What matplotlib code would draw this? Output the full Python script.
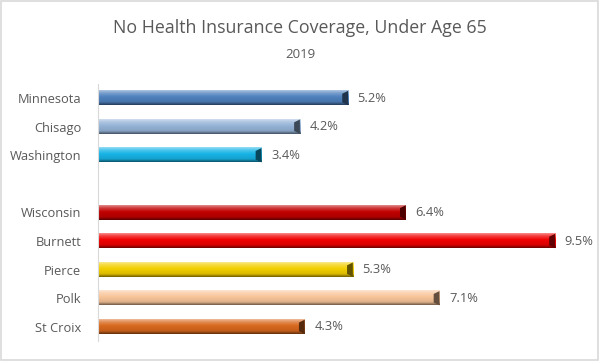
import numpy as np
import matplotlib
matplotlib.use("Agg")
import matplotlib.pyplot as plt
from matplotlib.colors import LinearSegmentedColormap, to_rgb
from matplotlib.patches import Rectangle, Polygon

plt.rcParams['font.family'] = ['Open Sans', 'DejaVu Sans']

# Data (gap row between Minnesota group and Wisconsin group)
places = ["Minnesota", "Chisago", "Washington", "", "Wisconsin", "Burnett", "Pierce", "Polk", "St Croix"]
values = [5.2, 4.2, 3.4, None, 6.4, 9.5, 5.3, 7.1, 4.3]
colors = ["#4F81BD", "#95B3D7", "#17B4E6", None, "#C00000", "#F00000", "#F2CF00", "#F9C59A", "#D8681E"]

title = "No Health Insurance Coverage, Under Age 65"
subtitle = "2019"
text_col = "#595959"


def shade(c, f):
    r, g, b = to_rgb(c)
    if f >= 0:
        return (r + (1 - r) * f, g + (1 - g) * f, b + (1 - b) * f)
    return (r * (1 + f), g * (1 + f), b * (1 + f))


fig = plt.figure(figsize=(6.0, 3.61), dpi=100)
fig.patch.set_facecolor("white")
fig.add_artist(Rectangle((0.002, 0.003), 0.995, 0.993, transform=fig.transFigure,
                         fill=False, edgecolor="#D9D9D9", linewidth=1.2))

ax = fig.add_axes([0.163, 0.055, 0.802, 0.713])
n = len(places)
ypos = np.arange(n)
ax.set_xlim(0, 10)
ax.set_ylim(n - 0.5, -0.5)

h = 0.5
for y, v, c in zip(ypos, values, colors):
    if v is None:
        continue
    cmap = LinearSegmentedColormap.from_list(
        "b", [(0, shade(c, 0.55)), (0.18, shade(c, 0.25)), (0.45, c),
              (0.8, shade(c, -0.1)), (1, shade(c, -0.55))])
    grad = np.linspace(0, 1, 64).reshape(-1, 1)
    ax.imshow(grad, cmap=cmap, aspect="auto", extent=[0, v, y + h / 2, y - h / 2],
              interpolation="bilinear", zorder=2)
    # slanted dark bevel at the right end
    ax.add_patch(Polygon([(v - 0.12, y - h / 2 + 0.1), (v, y - h / 2), (v, y + h / 2),
                          (v - 0.12, y + h / 2 - 0.1)],
                         facecolor=shade(c, -0.6), edgecolor="none", zorder=3))
    ax.text(v + 0.2, y, f"{v:.1f}%", va="center", ha="left", fontsize=9.3,
            color=text_col, zorder=4)

ax.set_yticks(ypos)
ax.set_yticklabels(places, fontsize=9.3, color=text_col)
ax.tick_params(axis="y", length=0, pad=12)
ax.set_xticks([])
for s in ["top", "right", "bottom"]:
    ax.spines[s].set_visible(False)
ax.spines["left"].set_color("#D9D9D9")
ax.set_facecolor("none")

fig.text(0.5, 0.922, title, ha="center", va="center", fontsize=12.8, color=text_col)
fig.text(0.5, 0.85, subtitle, ha="center", va="center", fontsize=9.5, color=text_col)

fig.savefig("out.png", dpi=100, facecolor="white")
